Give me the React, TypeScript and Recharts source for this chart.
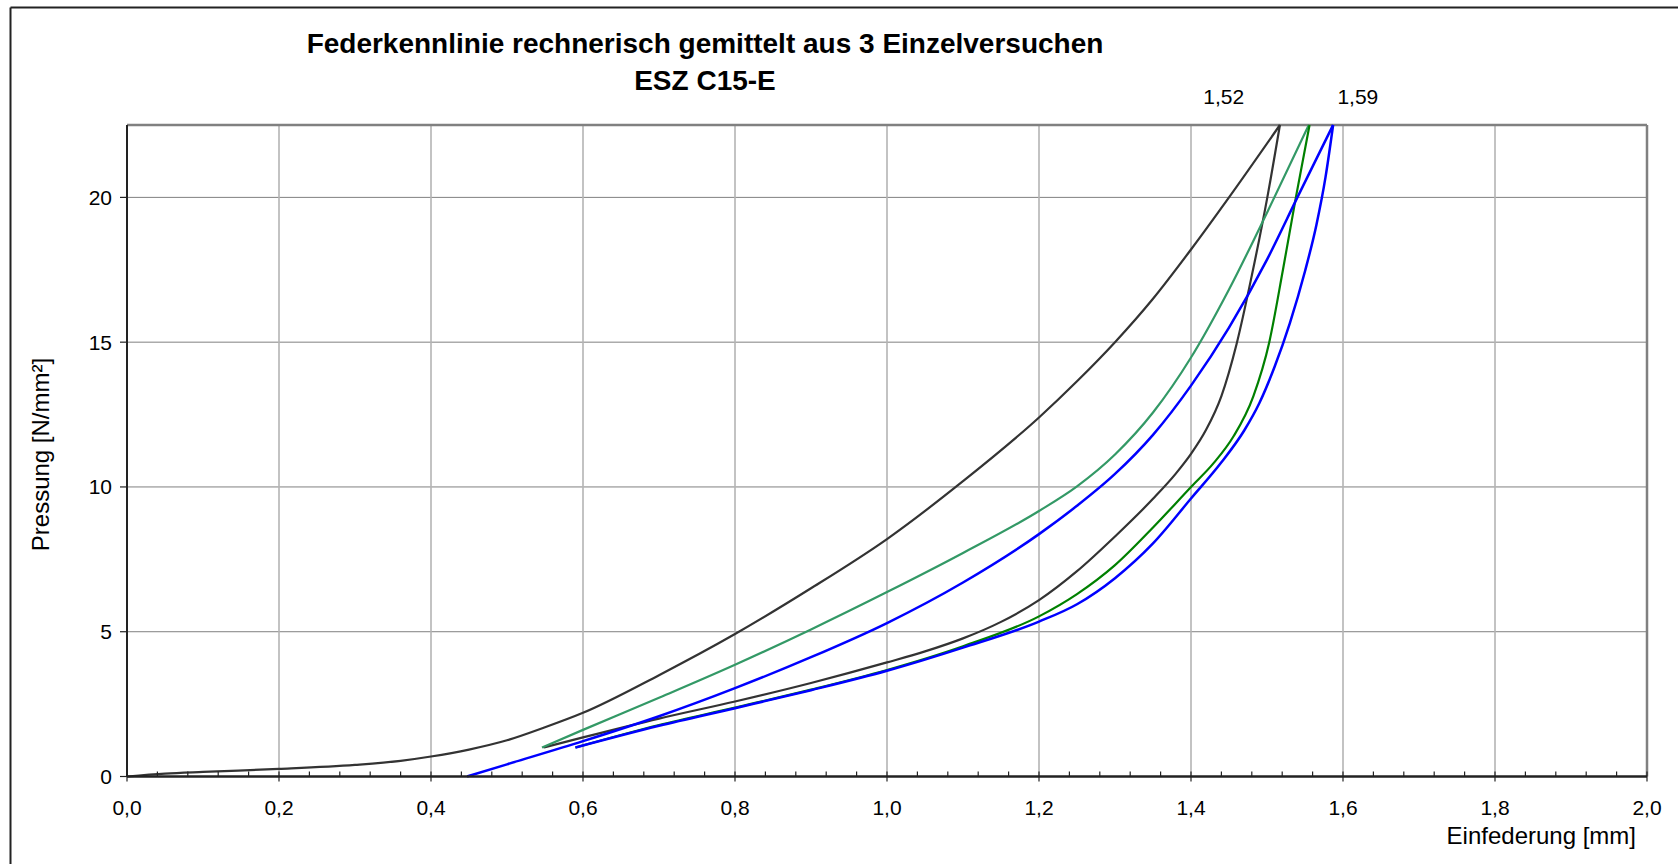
import React from 'react';
import {LineChart, Line, XAxis, YAxis, CartesianGrid, ReferenceLine, ReferenceDot} from 'recharts';

// Federkennlinie ESZ C15-E

const majorTicks = [0, 0.2, 0.4, 0.6, 0.8, 1.0, 1.2, 1.4, 1.6, 1.8, 2.0];
const yTicks = [0, 5, 10, 15, 20];

// 1. Belastung (dunkelgrau)
const greyLoading = [
  {x: 0, y: 0}, {x: 0.05, y: 0.1}, {x: 0.1, y: 0.16}, {x: 0.2, y: 0.26}, {x: 0.3, y: 0.4},
  {x: 0.36, y: 0.54}, {x: 0.4, y: 0.69}, {x: 0.45, y: 0.93}, {x: 0.5, y: 1.25}, {x: 0.55, y: 1.7},
  {x: 0.6, y: 2.2}, {x: 0.7, y: 3.5}, {x: 0.8, y: 4.92}, {x: 0.9, y: 6.5}, {x: 1.0, y: 8.2},
  {x: 1.1, y: 10.2}, {x: 1.2, y: 12.4}, {x: 1.25, y: 13.65}, {x: 1.3, y: 15.0}, {x: 1.35, y: 16.5},
  {x: 1.4, y: 18.2}, {x: 1.45, y: 20.0}, {x: 1.517, y: 22.5},
];
// 1. Entlastung (dunkelgrau)
const greyUnloading = [
  {x: 0.548, y: 1.0}, {x: 0.6, y: 1.35}, {x: 0.7, y: 2.0}, {x: 0.8, y: 2.59}, {x: 0.9, y: 3.23},
  {x: 1.0, y: 3.94}, {x: 1.05, y: 4.32}, {x: 1.1, y: 4.77}, {x: 1.15, y: 5.34}, {x: 1.2, y: 6.09},
  {x: 1.25, y: 7.09}, {x: 1.3, y: 8.29}, {x: 1.35, y: 9.59}, {x: 1.38, y: 10.46}, {x: 1.4, y: 11.14},
  {x: 1.42, y: 11.98}, {x: 1.44, y: 13.14}, {x: 1.46, y: 14.94}, {x: 1.48, y: 17.3}, {x: 1.5, y: 19.94},
  {x: 1.517, y: 22.5},
];
// 2. Belastung (seegruen)
const tealLoading = [
  {x: 0.546, y: 1.0}, {x: 0.6, y: 1.61}, {x: 0.7, y: 2.72}, {x: 0.8, y: 3.86}, {x: 0.9, y: 5.08},
  {x: 1.0, y: 6.37}, {x: 1.1, y: 7.72}, {x: 1.2, y: 9.17}, {x: 1.25, y: 10.02}, {x: 1.3, y: 11.12},
  {x: 1.35, y: 12.57}, {x: 1.4, y: 14.47}, {x: 1.45, y: 16.82}, {x: 1.5, y: 19.47}, {x: 1.555, y: 22.5},
];
// 2. Entlastung (gruen)
const greenUnloading = [
  {x: 0.59, y: 1.0}, {x: 0.7, y: 1.78}, {x: 0.8, y: 2.38}, {x: 0.9, y: 3.0}, {x: 1.0, y: 3.68},
  {x: 1.1, y: 4.5}, {x: 1.2, y: 5.53}, {x: 1.25, y: 6.3}, {x: 1.3, y: 7.3}, {x: 1.35, y: 8.6},
  {x: 1.4, y: 10.0}, {x: 1.43, y: 10.83}, {x: 1.456, y: 11.75}, {x: 1.482, y: 13.13}, {x: 1.503, y: 15.0},
  {x: 1.521, y: 17.5}, {x: 1.538, y: 20.0}, {x: 1.556, y: 22.5},
];
// 3. Versuch (blau)
const blueUpper = [
  {x: 0.4475, y: 0}, {x: 0.5, y: 0.42}, {x: 0.6, y: 1.22}, {x: 0.7, y: 2.08}, {x: 0.8, y: 3.05},
  {x: 0.9, y: 4.12}, {x: 1.0, y: 5.3}, {x: 1.1, y: 6.7}, {x: 1.2, y: 8.37}, {x: 1.25, y: 9.35},
  {x: 1.3, y: 10.45}, {x: 1.35, y: 11.8}, {x: 1.4, y: 13.5}, {x: 1.45, y: 15.5}, {x: 1.5, y: 17.85},
  {x: 1.54, y: 20.0}, {x: 1.587, y: 22.5},
];
const blueLower = [
  {x: 0.59, y: 1.0}, {x: 0.7, y: 1.75}, {x: 0.8, y: 2.36}, {x: 0.9, y: 2.98}, {x: 1.0, y: 3.65},
  {x: 1.1, y: 4.45}, {x: 1.2, y: 5.35}, {x: 1.25, y: 5.95}, {x: 1.3, y: 6.85}, {x: 1.35, y: 8.05},
  {x: 1.4, y: 9.6}, {x: 1.44, y: 10.85}, {x: 1.47, y: 11.95}, {x: 1.49, y: 12.9}, {x: 1.51, y: 14.15},
  {x: 1.53, y: 15.65}, {x: 1.55, y: 17.45}, {x: 1.565, y: 19.05}, {x: 1.577, y: 20.7}, {x: 1.587, y: 22.5},
];

const peakLabels = [
  {x: 1.52, y: 22.5, text: '1,52'},
  {x: 1.59, y: 22.5, text: '1,59'},
];

const FONT = "'Liberation Sans', Arial, sans-serif";

// 5 Teilstriche je Hauptintervall
const minorTicks: number[] = [];
for (let i = 0; i < majorTicks.length - 1; i++) {
  for (let k = 0; k < 5; k++) {
    minorTicks.push(+(majorTicks[i] + (majorTicks[i + 1] - majorTicks[i]) * k / 5).toFixed(3));
  }
}
minorTicks.push(majorTicks[majorTicks.length - 1]);

const fmt = (v: number) => v.toFixed(1).replace('.', ',');

const XTick = (props: any) => {
  const {x, y, payload} = props;
  const v = payload.value;
  const major = Math.abs(v * 5 - Math.round(v * 5)) < 1e-6;
  return (
    <g>
      <line x1={x} x2={x} y1={y - 5} y2={major ? y + 5 : y} stroke="#222" strokeWidth={1.2} />
      {major && (
        <text x={x} y={y + 38} textAnchor="middle" fontSize={21} fill="#000" fontFamily={FONT}>
          {fmt(v)}
        </text>
      )}
    </g>
  );
};

const PeakLabel = (props: any) => {
  const {viewBox, value, idx} = props;
  const cx = viewBox.x + viewBox.width / 2;
  const cy = viewBox.y + viewBox.height / 2;
  return (
    <text
      x={idx === 0 ? cx - 38 : cx + 2}
      y={cy - 21}
      textAnchor={idx === 0 ? 'end' : 'start'}
      fontSize={21}
      fill="#000"
      fontFamily={FONT}
    >
      {value}
    </text>
  );
};

const lineProps = {
  dataKey: 'y',
  type: 'monotone' as const,
  dot: false,
  activeDot: false,
  isAnimationActive: false,
};

const App = () => {
  return (
    <div style={{position: 'absolute', left: 0, top: 0, width: 1678, height: 864, background: '#fff'}}>
      <LineChart width={1678} height={864} margin={{top: 125, right: 31, left: 0, bottom: 0}}>
        <CartesianGrid vertical={false} stroke="#808080" strokeWidth={1} />
        {majorTicks.filter(t => t > 0 && t < 2).map(t => (
          <ReferenceLine key={t} x={t} stroke="#b4b4b4" strokeWidth={1.6} />
        ))}
        <ReferenceLine y={22.5} stroke="#808080" strokeWidth={2.5} />
        <ReferenceLine x={2} stroke="#808080" strokeWidth={2.5} />
        <XAxis
          dataKey="x"
          type="number"
          domain={[0, 2]}
          ticks={minorTicks}
          interval={0}
          tickSize={0}
          tickMargin={0}
          height={87.5}
          tick={<XTick />}
          axisLine={{stroke: '#222', strokeWidth: 2.5}}
          tickLine={false}
        />
        <YAxis
          type="number"
          domain={[0, 22.5]}
          ticks={yTicks}
          interval={0}
          width={127}
          tickSize={7}
          tickMargin={8}
          tick={{fontSize: 21, fill: '#000', fontFamily: FONT}}
          axisLine={{stroke: '#222', strokeWidth: 2}}
          tickLine={{stroke: '#222', strokeWidth: 1.2}}
        />
        <Line {...lineProps} data={greyLoading} stroke="#333333" strokeWidth={2.2} />
        <Line {...lineProps} data={greyUnloading} stroke="#333333" strokeWidth={2.2} />
        <Line {...lineProps} data={tealLoading} stroke="#339966" strokeWidth={2.2} />
        <Line {...lineProps} data={greenUnloading} stroke="#008000" strokeWidth={2.2} />
        <Line {...lineProps} data={blueUpper} stroke="#0000ff" strokeWidth={2.5} />
        <Line {...lineProps} data={blueLower} stroke="#0000ff" strokeWidth={2.5} />
        {peakLabels.map((p, i) => (
          <ReferenceDot
            key={p.text}
            x={p.x}
            y={p.y}
            r={1}
            fill="none"
            stroke="none"
            ifOverflow="visible"
            label={<PeakLabel value={p.text} idx={i} />}
          />
        ))}
      </LineChart>
      <svg width={1678} height={864} style={{position: 'absolute', left: 0, top: 0, pointerEvents: 'none'}}>
        <line x1={10.5} y1={7.5} x2={10.5} y2={864} stroke="#222" strokeWidth={2} />
        <line x1={10.5} y1={7.5} x2={1678} y2={7.5} stroke="#222" strokeWidth={2} />
        <text x={705} y={53} textAnchor="middle" fontSize={28} fontWeight="bold" fontFamily={FONT}>
          Federkennlinie rechnerisch gemittelt aus 3 Einzelversuchen
        </text>
        <text x={705} y={90} textAnchor="middle" fontSize={28} fontWeight="bold" fontFamily={FONT}>
          ESZ C15-E
        </text>
        <text x={48.5} y={454.5} textAnchor="middle" fontSize={24} fontFamily={FONT} transform="rotate(-90 48.5 454.5)">
          Pressung [N/mm²]
        </text>
        <text x={1636} y={844} textAnchor="end" fontSize={24} fontFamily={FONT}>
          Einfederung [mm]
        </text>
      </svg>
    </div>
  );
};

export default App;
